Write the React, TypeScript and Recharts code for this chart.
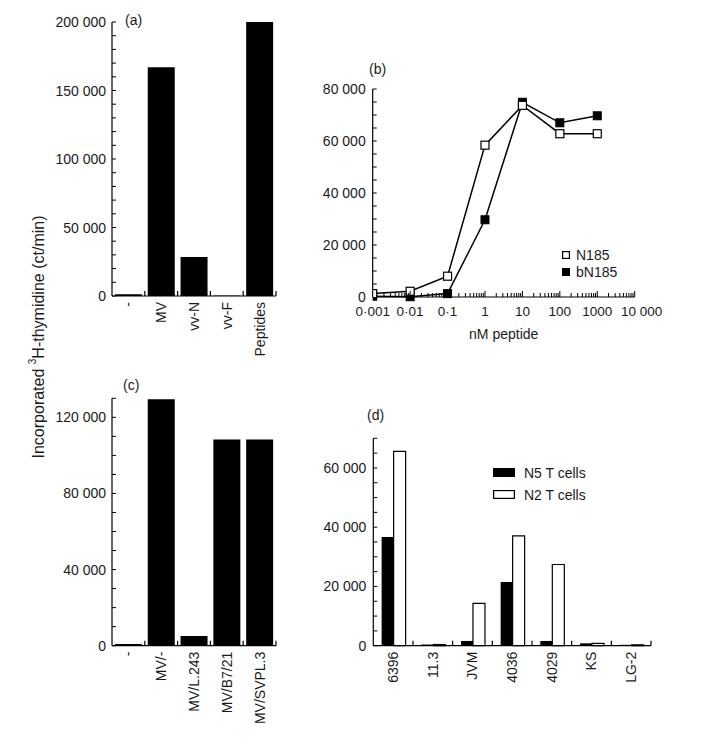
import React from 'react';
import { BarChart, Bar, XAxis, YAxis, LineChart, Line, Legend } from 'recharts';

const FONT = '"Liberation Sans", Arial, Helvetica, sans-serif';
const INK = '#1a1a1a';

// ---------- Panel (a) ----------
const aCategories = ['-', 'MV', 'vv-N', 'vv-F', 'Peptides'];
const aValues = [1200, 167000, 28500, 300, 200000];
const aMajorTicks = [0, 50000, 100000, 150000, 200000];
const aMajorLabels = ['0', '50 000', '100 000', '150 000', '200 000'];
const aTickStep = 10000;

// ---------- Panel (b) ----------
const bDoses = [0.001, 0.01, 0.1, 1, 10, 100, 1000];
const bN185 = [1300, 2200, 8000, 58400, 73700, 62800, 62800];
const bBN185 = [300, 100, 1300, 29700, 74900, 67000, 69700];
const bSeriesNames = ['N185', 'bN185'];
const bXMajor = [0.001, 0.01, 0.1, 1, 10, 100, 1000, 10000];
const bXLabels = ['0·001', '0·01', '0·1', '1', '10', '100', '1000', '10 000'];
const bYMajor = [0, 20000, 40000, 60000, 80000];
const bYLabels = ['0', '20 000', '40 000', '60 000', '80 000'];
const bYStep = 5000;

// ---------- Panel (c) ----------
const cCategories = ['-', 'MV/-', 'MV/L.243', 'MV/B7/21', 'MV/SVPL.3'];
const cValues = [900, 129500, 5100, 108400, 108400];
const cMajorTicks = [0, 40000, 80000, 120000];
const cMajorLabels = ['0', '40 000', '80 000', '120 000'];
const cTickStep = 10000;
const cMax = 130000;

// ---------- Panel (d) ----------
const dCategories = ['6396', '11.3', 'JVM', '4036', '4029', 'KS', 'LG-2'];
const dN5 = [36700, 400, 1600, 21500, 1600, 800, 300];
const dN2 = [65600, 400, 14300, 37100, 27400, 800, 300];
const dSeriesNames = ['N5 T cells', 'N2 T cells'];
const dMajorTicks = [0, 20000, 40000, 60000];
const dMajorLabels = ['0', '20 000', '40 000', '60 000'];
const dTickStep = 5000;
const dMax = 70000;

const range = (max: number, step: number) => {
  const out: number[] = [];
  for (let v = 0; v <= max + 1e-9; v += step) out.push(v);
  return out;
};

const logTicks = (() => {
  const out: number[] = [];
  for (let e = -3; e <= 3; e++) {
    for (let k = 1; k <= 9; k++) out.push(parseFloat((k * Math.pow(10, e)).toPrecision(6)));
  }
  out.push(10000);
  return out;
})();

const aData = aCategories.map((name, i) => ({ name, value: aValues[i] }));
const bData = bDoses.map((dose, i) => ({ dose, n185: bN185[i], bn185: bBN185[i] }));
const cData = cCategories.map((name, i) => ({ name, value: cValues[i] }));
const dData = dCategories.map((name, i) => ({ name, n5: dN5[i], n2: dN2[i] }));

const makeYTick = (majors: number[], labels: string[]) => (props: any) => {
  const { x, y, payload } = props;
  const idx = majors.findIndex((m) => Math.abs(m - payload.value) < 1e-6);
  if (idx < 0) return <g />;
  return (
    <text x={x} y={y} textAnchor="end" dominantBaseline="central" fill={INK} fontSize={14}>
      {labels[idx]}
    </text>
  );
};

const makeCatTick = (bandHalf: number) => (props: any) => {
  const { x, y, payload } = props;
  const off = typeof payload.offset === 'number' && payload.offset > 0 ? payload.offset : bandHalf;
  return (
    <g>
      <line x1={x + off} y1={y} x2={x + off} y2={y - 5} stroke="#000" strokeWidth={1.2} />
      <text
        transform={`translate(${x},${y + 6}) rotate(-90)`}
        textAnchor="end"
        dominantBaseline="central"
        fill={INK}
        fontSize={14}
      >
        {payload.value}
      </text>
    </g>
  );
};

const logTick = (props: any) => {
  const { x, y, payload } = props;
  const idx = bXMajor.findIndex((v) => Math.abs(v - payload.value) < v * 1e-6);
  const major = idx >= 0;
  const shift = idx === bXMajor.length - 1 ? 7 : 0;
  return (
    <g>
      <line x1={x} y1={y} x2={x} y2={y - (major ? 6 : 4)} stroke="#000" strokeWidth={1} />
      {major && (
        <text x={x + shift} y={y + 19} textAnchor="middle" fill={INK} fontSize={13.5}>
          {bXLabels[idx]}
        </text>
      )}
    </g>
  );
};

const openSquare = (props: any) => {
  const { cx, cy, index } = props;
  if (cx == null || cy == null) return <g key={`o-${index}`} />;
  return <rect key={`o-${index}`} x={cx - 4} y={cy - 4} width={8} height={8} fill="#fff" stroke="#000" strokeWidth={1.2} />;
};
const filledSquare = (props: any) => {
  const { cx, cy, index } = props;
  if (cx == null || cy == null) return <g key={`f-${index}`} />;
  return <rect key={`f-${index}`} x={cx - 4} y={cy - 4} width={8} height={8} fill="#000" stroke="#000" strokeWidth={1} />;
};

const ordered = (payload: any[], order: string[]) =>
  [...(payload || [])].sort((p, q) => order.indexOf(String(p.value)) - order.indexOf(String(q.value)));

const bLegend = (props: any) => (
  <div style={{ fontSize: 14, color: INK, lineHeight: '17px', fontFamily: FONT }}>
    {ordered(props.payload, bSeriesNames).map((e: any) => (
      <div key={String(e.value)} style={{ display: 'flex', alignItems: 'center', height: 17, whiteSpace: 'nowrap' }}>
        <svg width={8} height={8} style={{ marginRight: 6, display: 'block' }}>
          <rect x={0.6} y={0.6} width={6.8} height={6.8} fill={e.dataKey === 'n185' ? '#fff' : '#000'} stroke="#000" strokeWidth={1.2} />
        </svg>
        <span>{e.value}</span>
      </div>
    ))}
  </div>
);

const dLegend = (props: any) => (
  <div style={{ fontSize: 14, color: INK, lineHeight: '22px', fontFamily: FONT }}>
    {ordered(props.payload, dSeriesNames).map((e: any) => (
      <div key={String(e.value)} style={{ display: 'flex', alignItems: 'center', height: 22, whiteSpace: 'nowrap' }}>
        <svg width={22} height={9} style={{ marginRight: 9, display: 'block' }}>
          <rect x={0.6} y={0.6} width={20.8} height={7.8} fill={e.dataKey === 'n5' ? '#000' : '#fff'} stroke="#000" strokeWidth={1.2} />
        </svg>
        <span>{e.value}</span>
      </div>
    ))}
  </div>
);

const axisLine = { stroke: '#000', strokeWidth: 1.2 };
const tickLine = { stroke: '#000', strokeWidth: 1 };

export default function App() {
  return (
    <div style={{ position: 'absolute', left: 0, top: 0, width: 706, height: 751, background: '#fff', fontFamily: FONT }}>
      {/* (a) */}
      <div style={{ position: 'absolute', left: 0, top: 0 }}>
        <BarChart width={320} height={380} data={aData} margin={{ top: 22, right: 44, bottom: 4, left: 32 }} barCategoryGap="9%">
          <XAxis dataKey="name" interval={0} tickSize={0} tickMargin={0} tickLine={false} axisLine={axisLine} tick={makeCatTick(16.4)} height={80} />
          <YAxis type="number" domain={[0, 200000]} ticks={range(200000, aTickStep)} interval={0} tickSize={-4} tickMargin={10} tickLine={tickLine} axisLine={axisLine} tick={makeYTick(aMajorTicks, aMajorLabels)} width={80} />
          <Bar dataKey="value" fill="#000" isAnimationActive={false} />
        </BarChart>
      </div>

      {/* (b) */}
      <div style={{ position: 'absolute', left: 300, top: 40 }}>
        <LineChart width={406} height={340} data={bData} margin={{ top: 49, right: 71.3, bottom: 39, left: 12.7 }}>
          <XAxis dataKey="dose" type="number" scale="log" domain={[0.001, 10000]} allowDataOverflow ticks={logTicks} interval={0} tickSize={0} tickMargin={0} tickLine={false} axisLine={axisLine} tick={logTick} height={44}
            label={{ value: 'nM peptide', position: 'insideBottom', offset: 2, fill: INK, fontSize: 14 }} />
          <YAxis type="number" domain={[0, 80000]} ticks={range(80000, bYStep)} interval={0} tickSize={-4} tickMargin={11} tickLine={tickLine} axisLine={axisLine} tick={makeYTick(bYMajor, bYLabels)} width={60} />
          <Legend layout="vertical" align="center" verticalAlign="middle" wrapperStyle={{ left: 262, top: 206.5, width: 'auto' }} content={bLegend} />
          <Line dataKey="bn185" name={bSeriesNames[1]} type="linear" stroke="#000" strokeWidth={1.5} dot={filledSquare} isAnimationActive={false} />
          <Line dataKey="n185" name={bSeriesNames[0]} type="linear" stroke="#000" strokeWidth={1.5} dot={openSquare} isAnimationActive={false} />
        </LineChart>
      </div>

      {/* (c) */}
      <div style={{ position: 'absolute', left: 0, top: 380 }}>
        <BarChart width={320} height={371} data={cData} margin={{ top: 18.3, right: 44, bottom: 5.3, left: 32 }} barCategoryGap="9%">
          <XAxis dataKey="name" interval={0} tickSize={0} tickMargin={0} tickLine={false} axisLine={axisLine} tick={makeCatTick(16.4)} height={100} />
          <YAxis type="number" domain={[0, cMax]} ticks={range(cMax, cTickStep)} interval={0} tickSize={-4} tickMargin={10} tickLine={tickLine} axisLine={axisLine} tick={makeYTick(cMajorTicks, cMajorLabels)} width={80} />
          <Bar dataKey="value" fill="#000" isAnimationActive={false} />
        </BarChart>
      </div>

      {/* (d) */}
      <div style={{ position: 'absolute', left: 300, top: 420 }}>
        <BarChart width={406} height={331} data={dData} margin={{ top: 18.3, right: 55, bottom: 5.3, left: 13.3 }} barCategoryGap="21%" barGap={0}>
          <XAxis dataKey="name" interval={0} tickSize={0} tickMargin={0} tickLine={false} axisLine={axisLine} tick={makeCatTick(19.8)} height={100} />
          <YAxis type="number" domain={[0, dMax]} ticks={range(dMax, dTickStep)} interval={0} tickSize={-4} tickMargin={11} tickLine={tickLine} axisLine={axisLine} tick={makeYTick(dMajorTicks, dMajorLabels)} width={60} />
          <Legend layout="vertical" align="center" verticalAlign="middle" wrapperStyle={{ left: 193, top: 41.5, width: 'auto' }} content={dLegend} />
          <Bar dataKey="n5" name={dSeriesNames[0]} fill="#000" isAnimationActive={false} />
          <Bar dataKey="n2" name={dSeriesNames[1]} fill="#fff" stroke="#000" strokeWidth={1.2} isAnimationActive={false} />
        </BarChart>
      </div>

      {/* Panel letters and shared y title */}
      <svg width={706} height={751} style={{ position: 'absolute', left: 0, top: 0, pointerEvents: 'none' }}>
        <text x={125} y={25} fontSize={14} fill={INK}>(a)</text>
        <text x={369} y={73.5} fontSize={14} fill={INK}>(b)</text>
        <text x={123} y={390} fontSize={14} fill={INK}>(c)</text>
        <text x={367} y={420} fontSize={14} fill={INK}>(d)</text>
        <text transform="translate(38,337) rotate(-90)" textAnchor="middle" dominantBaseline="central" fontSize={16} fill={INK}>
          Incorporated <tspan baselineShift="super" fontSize={10}>3</tspan>H-thymidine (ct/min)
        </text>
      </svg>
    </div>
  );
}
